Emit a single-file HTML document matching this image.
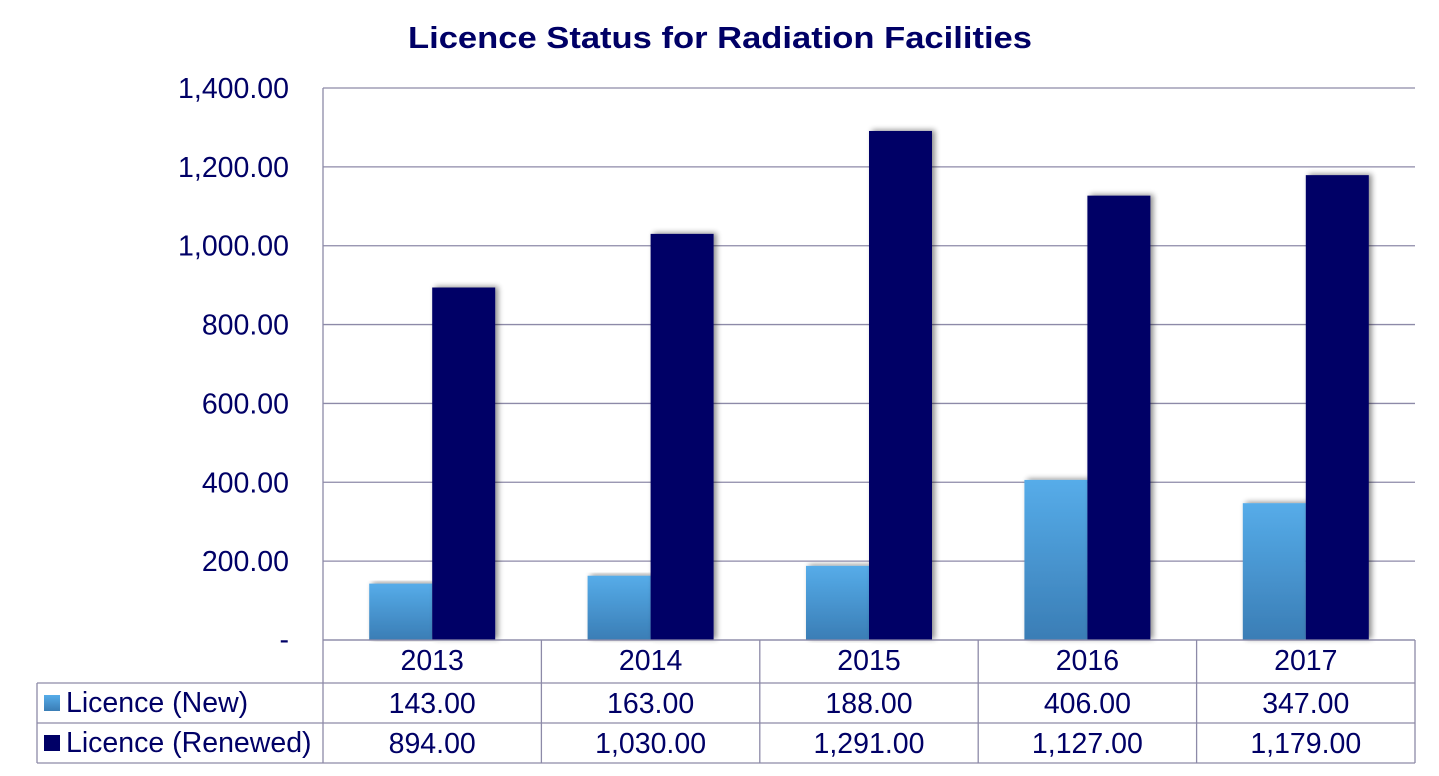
<!DOCTYPE html>
<html><head><meta charset="utf-8"><style>
body{margin:0;background:#fff;}
svg{display:block;font-family:"Liberation Sans",Arial,sans-serif;}
</style></head><body>
<svg id="chart" width="1439" height="776">
<defs>
<linearGradient id="gNew" x1="0" y1="0" x2="0" y2="1"><stop offset="0" stop-color="#56ace9"/><stop offset="1" stop-color="#3a7db5"/></linearGradient>
<filter id="sh" x="-20%" y="-5%" width="150%" height="110%"><feGaussianBlur in="SourceAlpha" stdDeviation="3"/><feOffset dx="3" dy="-1"/><feComponentTransfer><feFuncA type="linear" slope="0.45"/></feComponentTransfer><feMerge><feMergeNode/><feMergeNode in="SourceGraphic"/></feMerge></filter>
</defs>
<text x="720" y="48" text-anchor="middle" font-size="31" font-weight="bold" fill="#000066" textLength="624" lengthAdjust="spacingAndGlyphs">Licence Status for Radiation Facilities</text>
<g id="grid"></g><g id="bars"></g><g id="table"></g>
</svg>
<script>
const categories=["2013","2014","2015","2016","2017"];
const newVals=[143,163,188,406,347];
const renewedVals=[894,1030,1291,1127,1179];
const yTicks=[0,200,400,600,800,1000,1200,1400];
const yTickLabels=["-","200.00","400.00","600.00","800.00","1,000.00","1,200.00","1,400.00"];
const newLabels=["143.00","163.00","188.00","406.00","347.00"];
const renewedLabels=["894.00","1,030.00","1,291.00","1,127.00","1,179.00"];

const NS="http://www.w3.org/2000/svg";
const L=323,R=1415,T=88,B=640,maxY=1400;
const cw=(R-L)/categories.length;
const y=v=>B-(v/maxY)*(B-T);
const x=i=>L+i*cw;
function mk(tag,attrs,parent,text){const e=document.createElementNS(NS,tag);for(const k in attrs)e.setAttribute(k,attrs[k]);if(text!==undefined)e.textContent=text;parent.appendChild(e);return e;}
const grid=document.getElementById('grid'),bars=document.getElementById('bars'),tbl=document.getElementById('table');
const gc="#8d8aa8",tc="#000066";
yTicks.forEach((t,i)=>{
  const ln=mk('line',{x1:L,x2:R,y1:y(t),y2:y(t),stroke:gc,'stroke-width':1.3},grid);
  
  
  const tx=mk('text',{x:289,y:y(t)+(t===0?9:10),'text-anchor':'end','font-size':28.5,fill:tc},grid,yTickLabels[i]);
  
  
});
mk('line',{x1:L,x2:L,y1:T,y2:B,stroke:gc,'stroke-width':1.3},grid);
const bw=63;
categories.forEach((c,i)=>{
  const cx=x(i)+cw/2;
  const b1=mk('rect',{x:cx-bw,y:y(newVals[i]),width:bw,height:B-y(newVals[i]),fill:'url(#gNew)',filter:'url(#sh)'},bars);
  
  
  const b2=mk('rect',{x:cx,y:y(renewedVals[i]),width:bw,height:B-y(renewedVals[i]),fill:'#000066',filter:'url(#sh)'},bars);
  
  
});
const r1=683,r2=723,r3=763,TL=37;
[[L,R,B],[TL,R,r1],[TL,R,r2],[TL,R,r3]].forEach(a=>mk('line',{x1:a[0],x2:a[1],y1:a[2],y2:a[2],stroke:gc,'stroke-width':1.3},tbl));
mk('line',{x1:TL,x2:TL,y1:r1,y2:r3,stroke:gc,'stroke-width':1.3},tbl);
for(let i=0;i<=categories.length;i++)mk('line',{x1:x(i),x2:x(i),y1:B,y2:r3,stroke:gc,'stroke-width':1.3},tbl);
categories.forEach((c,i)=>{
  const cx=x(i)+cw/2;
  const h=mk('text',{x:cx,y:670,'text-anchor':'middle','font-size':28.5,fill:tc},tbl,c);
  
  
  const a=mk('text',{x:cx,y:713,'text-anchor':'middle','font-size':28.5,fill:tc},tbl,newLabels[i]);
  
  
  const b=mk('text',{x:cx,y:753,'text-anchor':'middle','font-size':28.5,fill:tc},tbl,renewedLabels[i]);
  
  
});
const k1=mk('rect',{x:44,y:695,width:16,height:16,fill:'url(#gNew)'},tbl);


const t1=mk('text',{x:66,y:712,'font-size':28.5,fill:tc},tbl,'Licence (New)');


const k2=mk('rect',{x:44,y:735,width:16,height:16,fill:'#000066'},tbl);


const t2=mk('text',{x:66,y:752,'font-size':28.5,fill:tc},tbl,'Licence (Renewed)');


</script>
</body></html>
